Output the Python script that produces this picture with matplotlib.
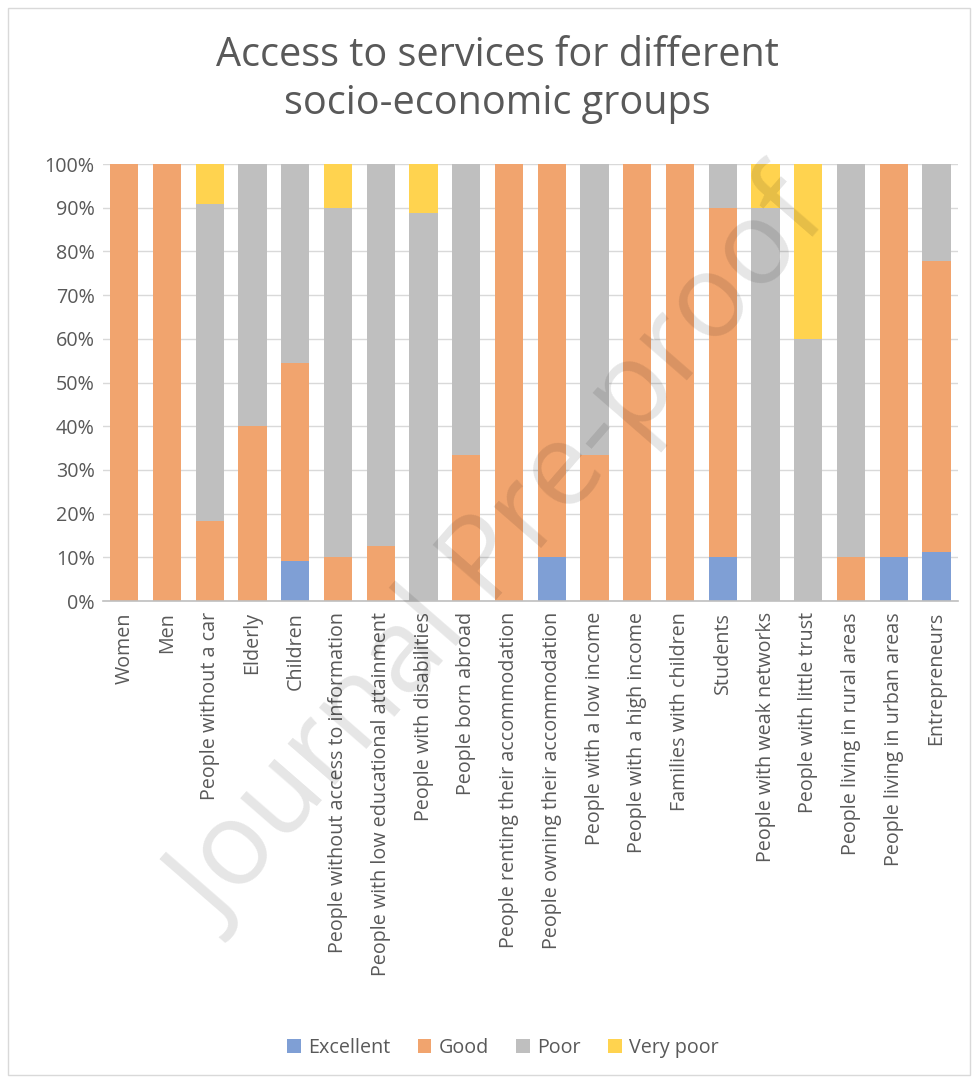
import matplotlib
matplotlib.use("Agg")
import matplotlib.pyplot as plt
from matplotlib.patches import Rectangle
from matplotlib.ticker import PercentFormatter
import numpy as np

categories = [
    "Women", "Men", "People without a car", "Elderly", "Children",
    "People without access to information", "People with low educational attainment",
    "People with disabilities", "People born abroad", "People renting their accommodation",
    "People owning their accommodation", "People with a low income", "People with a high income",
    "Families with children", "Students", "People with weak networks", "People with little trust",
    "People living in rural areas", "People living in urban areas", "Entrepreneurs",
]
excellent = [0, 0, 0, 0, 9.1, 0, 0, 0, 0, 0, 10, 0, 0, 0, 10, 0, 0, 0, 10, 11.1]
good = [100, 100, 18.2, 40, 45.4, 10, 12.5, 0, 33.3, 100, 90, 33.3, 100, 100, 80, 0, 0, 10, 90, 66.7]
poor = [0, 0, 72.7, 60, 45.5, 80, 87.5, 88.9, 66.7, 0, 0, 66.7, 0, 0, 10, 90, 60, 90, 0, 22.2]
very_poor = [0, 0, 9.1, 0, 0, 10, 0, 11.1, 0, 0, 0, 0, 0, 0, 0, 10, 40, 0, 0, 0]
series_names = ["Excellent", "Good", "Poor", "Very poor"]
colors = ["#7F9FD5", "#F1A46E", "#BFBFBF", "#FFD34F"]

plt.rcParams['font.family'] = ['Open Sans', 'DejaVu Sans']

fig = plt.figure(figsize=(9.76, 10.79), dpi=100)
ax = fig.add_axes([0.1055, 0.443, 0.876, 0.405])

x = np.arange(len(categories))
bottom = np.zeros(len(categories))
for name, vals, col in zip(series_names, [excellent, good, poor, very_poor], colors):
    v = np.array(vals, dtype=float)
    ax.bar(x, v, bottom=bottom, width=0.66, color=col, label=name, zorder=2)
    bottom += v

ax.set_xlim(-0.5, len(categories) - 0.5)
ax.set_ylim(0, 100)
ax.set_yticks(np.arange(0, 101, 10))
ax.yaxis.set_major_formatter(PercentFormatter(decimals=0))
ax.set_xticks(x)
ax.set_xticklabels(categories, rotation=90)
ax.tick_params(axis='both', length=0, labelsize=14.2, labelcolor="#595959")
ax.tick_params(axis='x', pad=8)
ax.tick_params(axis='y', pad=6)
ax.grid(axis='y', color="#D9D9D9", linewidth=1, zorder=0)
for s in ['top', 'right', 'left']:
    ax.spines[s].set_visible(False)
ax.spines['bottom'].set_color("#BFBFBF")
ax.spines['bottom'].set_linewidth(1.2)
ax.spines['bottom'].set_zorder(3)

fig.text(0.51, 0.926, "Access to services for different\nsocio-economic groups",
         ha='center', va='center', fontsize=28.5, color="#595959", linespacing=1.25)

fig.legend(loc='center', bbox_to_anchor=(0.515, 0.029), ncol=4, frameon=False,
           fontsize=14.2, labelcolor="#595959", handlelength=0.7, handleheight=0.7,
           handletextpad=0.35, columnspacing=1.4)

fig.patches.append(Rectangle((0.008, 0.004), 0.986, 0.989, transform=fig.transFigure,
                             fill=False, edgecolor="#D9D9D9", linewidth=1))

fig.text(0.515, 0.485, "Journal Pre-proof", rotation=49, ha='center', va='center',
         fontsize=84, color="#000000", alpha=0.1, zorder=10)

fig.savefig("out.png", dpi=100, facecolor="white")
